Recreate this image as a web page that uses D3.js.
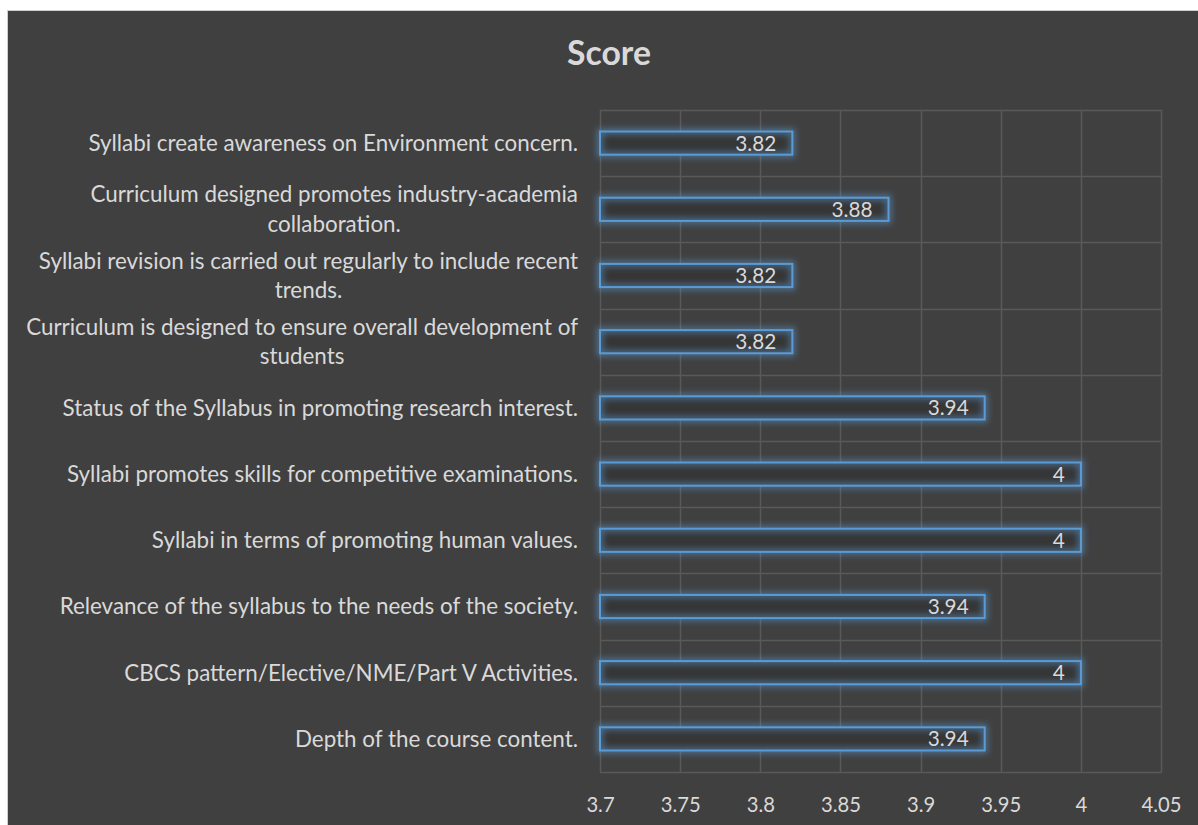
<!DOCTYPE html>
<html>
<head>
<meta charset="utf-8">
<script src="https://cdn.jsdelivr.net/npm/d3@7.9.0/dist/d3.min.js"></script>
<style>
  html, body { margin: 0; padding: 0; background: #ffffff; }
  svg { display: block; }
  text { font-family: Lato, "Open Sans", sans-serif; fill: #d9d9d9; }
</style>
</head>
<body>
<svg id="chart" width="1198" height="825"></svg>
<script>
// chart data, top to bottom as in the picture
const categories = [
  "Syllabi create awareness on Environment concern.",
  "Curriculum designed promotes industry-academia collaboration.",
  "Syllabi revision is carried out regularly to include recent trends.",
  "Curriculum is designed to ensure overall development of students",
  "Status of the Syllabus in promoting research interest.",
  "Syllabi promotes skills for competitive examinations.",
  "Syllabi in terms of promoting human values.",
  "Relevance of the syllabus to the needs of the society.",
  "CBCS pattern/Elective/NME/Part V Activities.",
  "Depth of the course content."
];
const scores = [3.82, 3.88, 3.82, 3.82, 3.94, 4, 4, 3.94, 4, 3.94];
const xTicks = [3.7, 3.75, 3.8, 3.85, 3.9, 3.95, 4, 4.05];
const chartTitle = "Score";

const svg = d3.select("#chart");

const plot = { left: 600, right: 1161, top: 110, bottom: 772 };
const labelRight = 578;

// helper: pick a font size so a sample string gets a given width
function fitSize(sample, targetWidth, weight) {
  const t = svg.append("text").attr("font-size", 100).attr("font-weight", weight || "normal").text(sample);
  const w = t.node().getComputedTextLength();
  t.remove();
  return 100 * targetWidth / w;
}

const catSize = fitSize(categories[0], 490);
const tickSize = fitSize("3.75", 40);
const valSize = fitSize("3.88", 41);
const titleSize = fitSize(chartTitle, 84, "bold");

// filters
const defs = svg.append("defs");
defs.append("filter")
    .attr("id", "glow")
    .attr("x", "-10%").attr("y", "-100%")
    .attr("width", "120%").attr("height", "300%")
  .append("feGaussianBlur")
    .attr("stdDeviation", 3.2);

// background panel
svg.append("rect")
  .attr("x", 7.5).attr("y", 10.5)
  .attr("width", 1200).attr("height", 830)
  .attr("fill", "#404040")
  .attr("stroke", "#cfcfcf");

// title
svg.append("text")
  .attr("x", 609).attr("y", 65)
  .attr("text-anchor", "middle")
  .attr("font-weight", "bold")
  .attr("font-size", titleSize)
  .text(chartTitle);

const x = d3.scaleLinear().domain([3.7, 4.05]).range([plot.left, plot.right]);
const y = d3.scaleBand()
  .domain(categories)
  .range([plot.top, plot.bottom])
  .paddingInner(0.65)
  .paddingOuter(0.325);

// grid
const grid = svg.append("g").attr("class", "grid");
grid.selectAll("line.v")
  .data(xTicks)
  .enter().append("line")
  .attr("class", "v")
  .attr("x1", d => Math.round(x(d)) + 0.5).attr("x2", d => Math.round(x(d)) + 0.5)
  .attr("y1", plot.top).attr("y2", plot.bottom)
  .attr("stroke", "#595959").attr("stroke-width", 1.5);

const boundaries = d3.range(categories.length + 1).map(i => plot.top + i * y.step());
grid.selectAll("line.h")
  .data(boundaries)
  .enter().append("line")
  .attr("class", "h")
  .attr("x1", plot.left).attr("x2", plot.right + 0.75)
  .attr("y1", d => Math.round(d) + 0.5).attr("y2", d => Math.round(d) + 0.5)
  .attr("stroke", "#595959").attr("stroke-width", 1.5);

// x axis labels
const xAxis = d3.axisBottom(x)
  .tickValues(xTicks)
  .tickSize(0)
  .tickPadding(0)
  .tickFormat(d3.format(""));

const axisG = svg.append("g")
  .attr("transform", `translate(0,${plot.bottom})`)
  .call(xAxis);
axisG.select(".domain").remove();
axisG.selectAll("text")
  .attr("y", 33)
  .attr("dy", "0.35em")
  .attr("font-size", tickSize)
  .attr("font-family", "Lato, sans-serif")
  .attr("fill", "#d9d9d9");

// bars
const rows = categories.map((c, i) => ({ label: c, value: scores[i] }));
const bars = svg.append("g").selectAll("g.bar")
  .data(rows)
  .enter().append("g")
  .attr("class", "bar");

bars.append("rect")
  .attr("x", x(3.7)).attr("y", d => y(d.label))
  .attr("width", d => x(d.value) - x(3.7))
  .attr("height", y.bandwidth())
  .attr("fill", "#363636");

bars.append("rect")
  .attr("x", x(3.7)).attr("y", d => y(d.label))
  .attr("width", d => x(d.value) - x(3.7))
  .attr("height", y.bandwidth())
  .attr("fill", "none")
  .attr("stroke", "#5b9bd5")
  .attr("stroke-width", 6)
  .attr("opacity", 0.55)
  .attr("filter", "url(#glow)");

bars.append("rect")
  .attr("x", x(3.7)).attr("y", d => y(d.label))
  .attr("width", d => x(d.value) - x(3.7))
  .attr("height", y.bandwidth())
  .attr("fill", "none")
  .attr("stroke", "#5b9bd5")
  .attr("stroke-width", 2);

bars.append("text")
  .attr("x", d => x(d.value) - 16)
  .attr("y", d => y(d.label) + y.bandwidth() / 2)
  .attr("dy", "0.36em")
  .attr("text-anchor", "end")
  .attr("font-size", valSize)
  .text(d => d.value);

// category labels, wrapped and centred within a right aligned block
const wrapWidth = 585;
const lineHeight = 29.5;
const labelG = svg.append("g");
rows.forEach(d => {
  const t = labelG.append("text").attr("font-size", catSize);
  const words = d.label.split(" ");
  const lines = [];
  let current = "";
  words.forEach(w => {
    const trial = current ? current + " " + w : w;
    t.text(trial);
    if (t.node().getComputedTextLength() > wrapWidth && current) {
      lines.push(current);
      current = w;
    } else {
      current = trial;
    }
  });
  lines.push(current);
  t.text(null);
  const widths = lines.map(l => {
    t.text(l);
    const w = t.node().getComputedTextLength();
    return w;
  });
  t.text(null);
  const blockW = d3.max(widths);
  const cx = labelRight - blockW / 2;
  const cy = y(d.label) + y.bandwidth() / 2;
  const y0 = cy - (lines.length - 1) * lineHeight / 2;
  t.attr("text-anchor", "middle");
  lines.forEach((l, i) => {
    t.append("tspan")
      .attr("x", cx)
      .attr("y", y0 + i * lineHeight)
      .attr("dy", "0.35em")
      .text(l);
  });
});
</script>
</body>
</html>
